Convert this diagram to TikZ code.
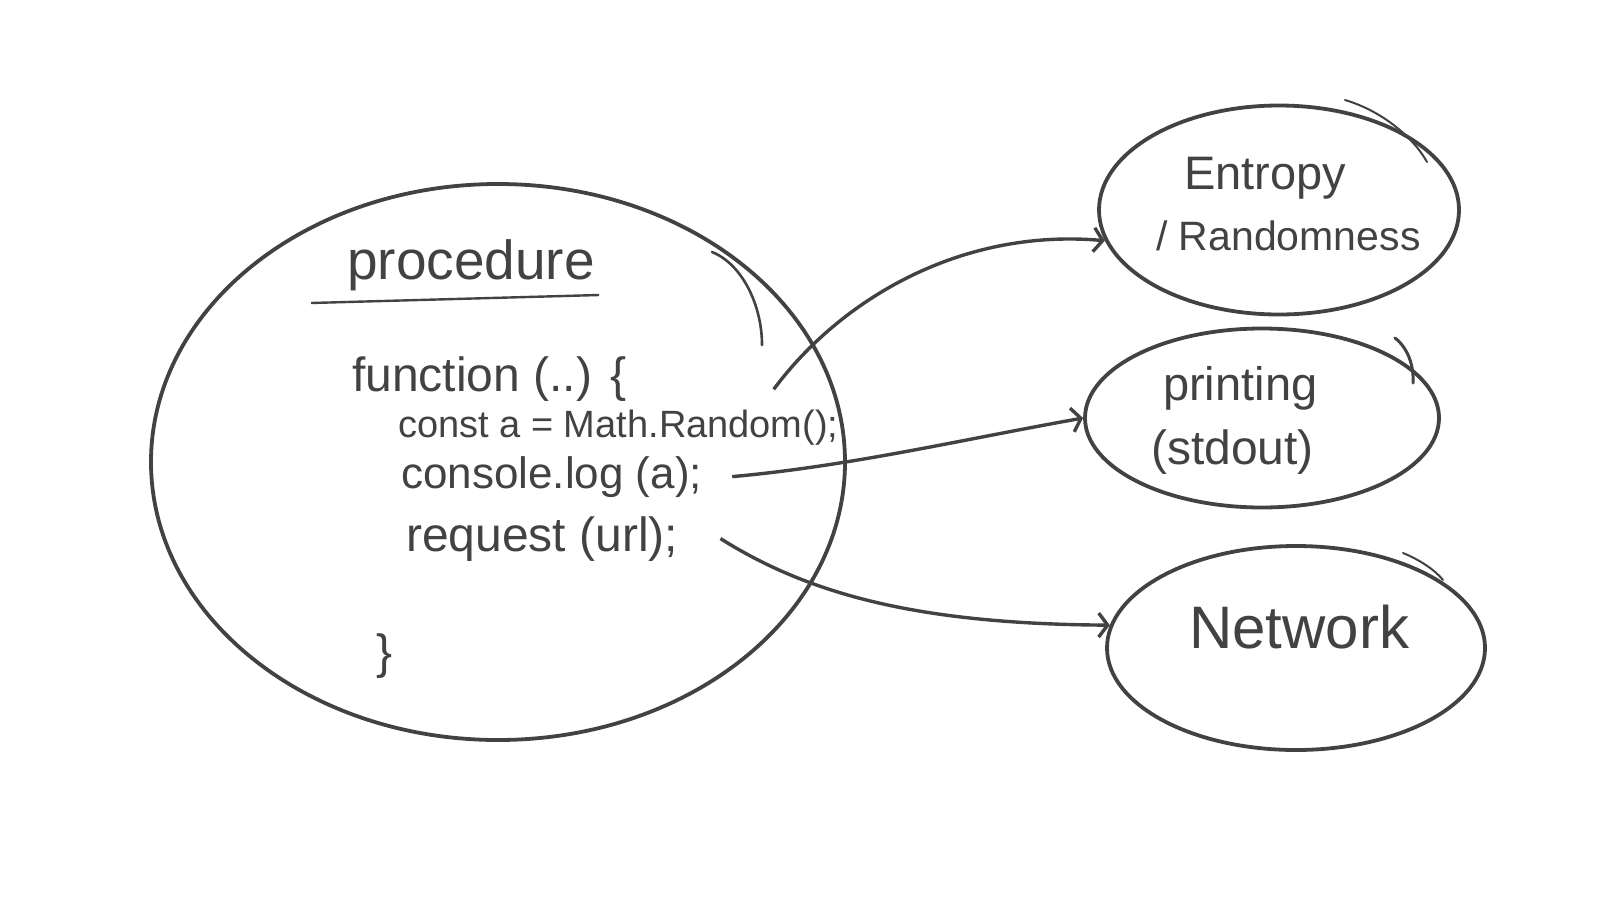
\documentclass[tikz,border=0pt]{standalone}
\usepackage{fontspec}
\setmainfont{Liberation Sans}
\usetikzlibrary{arrows.meta, positioning, shapes.geometric}
\definecolor{pen}{HTML}{424242}

\begin{document}
\begin{tikzpicture}[
            x=1pt, y=-1pt,
            >={Straight Barb[length=9pt,width=24pt]},
            bubble/.style={
                draw=pen,
                ellipse,
                line width=3.8pt,
                inner sep=0pt
            },
            hand/.style={
                anchor=base west,
                inner sep=0pt,
                text=pen
            },
            link/.style={->, draw=pen, line width=3.4pt},
            overstroke/.style={draw=pen, line width=2pt, line cap=round}
        ]
            \useasboundingbox (0,0) rectangle (1600,900);

            % Procedure bubble
            \node [bubble, minimum width=694pt, minimum height=556pt] (proc) at (498,462) {};
            \draw [overstroke, line width=2.6pt] (712,252) .. controls (742,264) and (762,305) .. (762,345);

            % Title and code
            \node [hand, font=\fontsize{55pt}{60pt}\selectfont] (title) at (347,279) {procedure};
            \draw [draw=pen, line width=2.4pt] ([xshift=-36pt,yshift=-24pt]title.base west) -- ([xshift=4pt,yshift=-16pt]title.base east);
            \node [hand, font=\fontsize{48pt}{54pt}\selectfont] (func) at (352,391) {function (..) \{};
            \node [hand, font=\fontsize{38pt}{44pt}\selectfont] (const) at (398,437) {const a = Math.Random();};
            \node [hand, font=\fontsize{44pt}{50pt}\selectfont] (console) at (401,488) {console.log (a);};
            \node [hand, font=\fontsize{48pt}{54pt}\selectfont] (request) at (406,551) {request (url);};
            \node [hand, font=\fontsize{48pt}{54pt}\selectfont] (close) at (376,668) {\}};

            % Side effects
            \node [bubble, minimum width=360pt, minimum height=209pt] (entropy) at (1279,210) {};
            \draw [overstroke] (1345,100) .. controls (1385,112) and (1415,140) .. (1427,162);
            \node [hand, font=\fontsize{47pt}{52pt}\selectfont] (entropytxt) at (1184,189) {Entropy};
            \node [hand, font=\fontsize{41pt}{46pt}\selectfont] (randomtxt) at (1156,250) {/ Randomness};

            \node [bubble, minimum width=354pt, minimum height=179pt] (printing) at (1262,418) {};
            \draw [overstroke, line width=3pt] (1395,338) .. controls (1408,348) and (1414,366) .. (1413,383);
            \node [hand, font=\fontsize{47pt}{52pt}\selectfont] (printtxt) at (1163,400) {printing};
            \node [hand, font=\fontsize{48pt}{52pt}\selectfont] (stdouttxt) at (1151,464) {(stdout)};

            \node [bubble, minimum width=378pt, minimum height=204pt] (network) at (1296,648) {};
            \draw [overstroke] (1403,553) .. controls (1420,560) and (1435,570) .. (1443,580);
            \node [hand, font=\fontsize{60pt}{66pt}\selectfont] (nettxt) at (1189,648) {Network};

            % Arrows
            \coordinate (fromconst) at ([xshift=-65pt,yshift=20pt]const.north east);
            \coordinate (fromconsole) at ([xshift=30pt]console.east);
            \coordinate (fromrequest) at ([xshift=42pt]request.east);
            \draw [link] (fromconst) .. controls (840,300) and (960,228) .. (entropy.190);
            \draw [link] (fromconsole) .. controls (850,466) and (960,440) .. (printing.west);
            \draw [link] (fromrequest) .. controls (810,595) and (920,624) .. (network.173);
        \end{tikzpicture}
\end{document}
